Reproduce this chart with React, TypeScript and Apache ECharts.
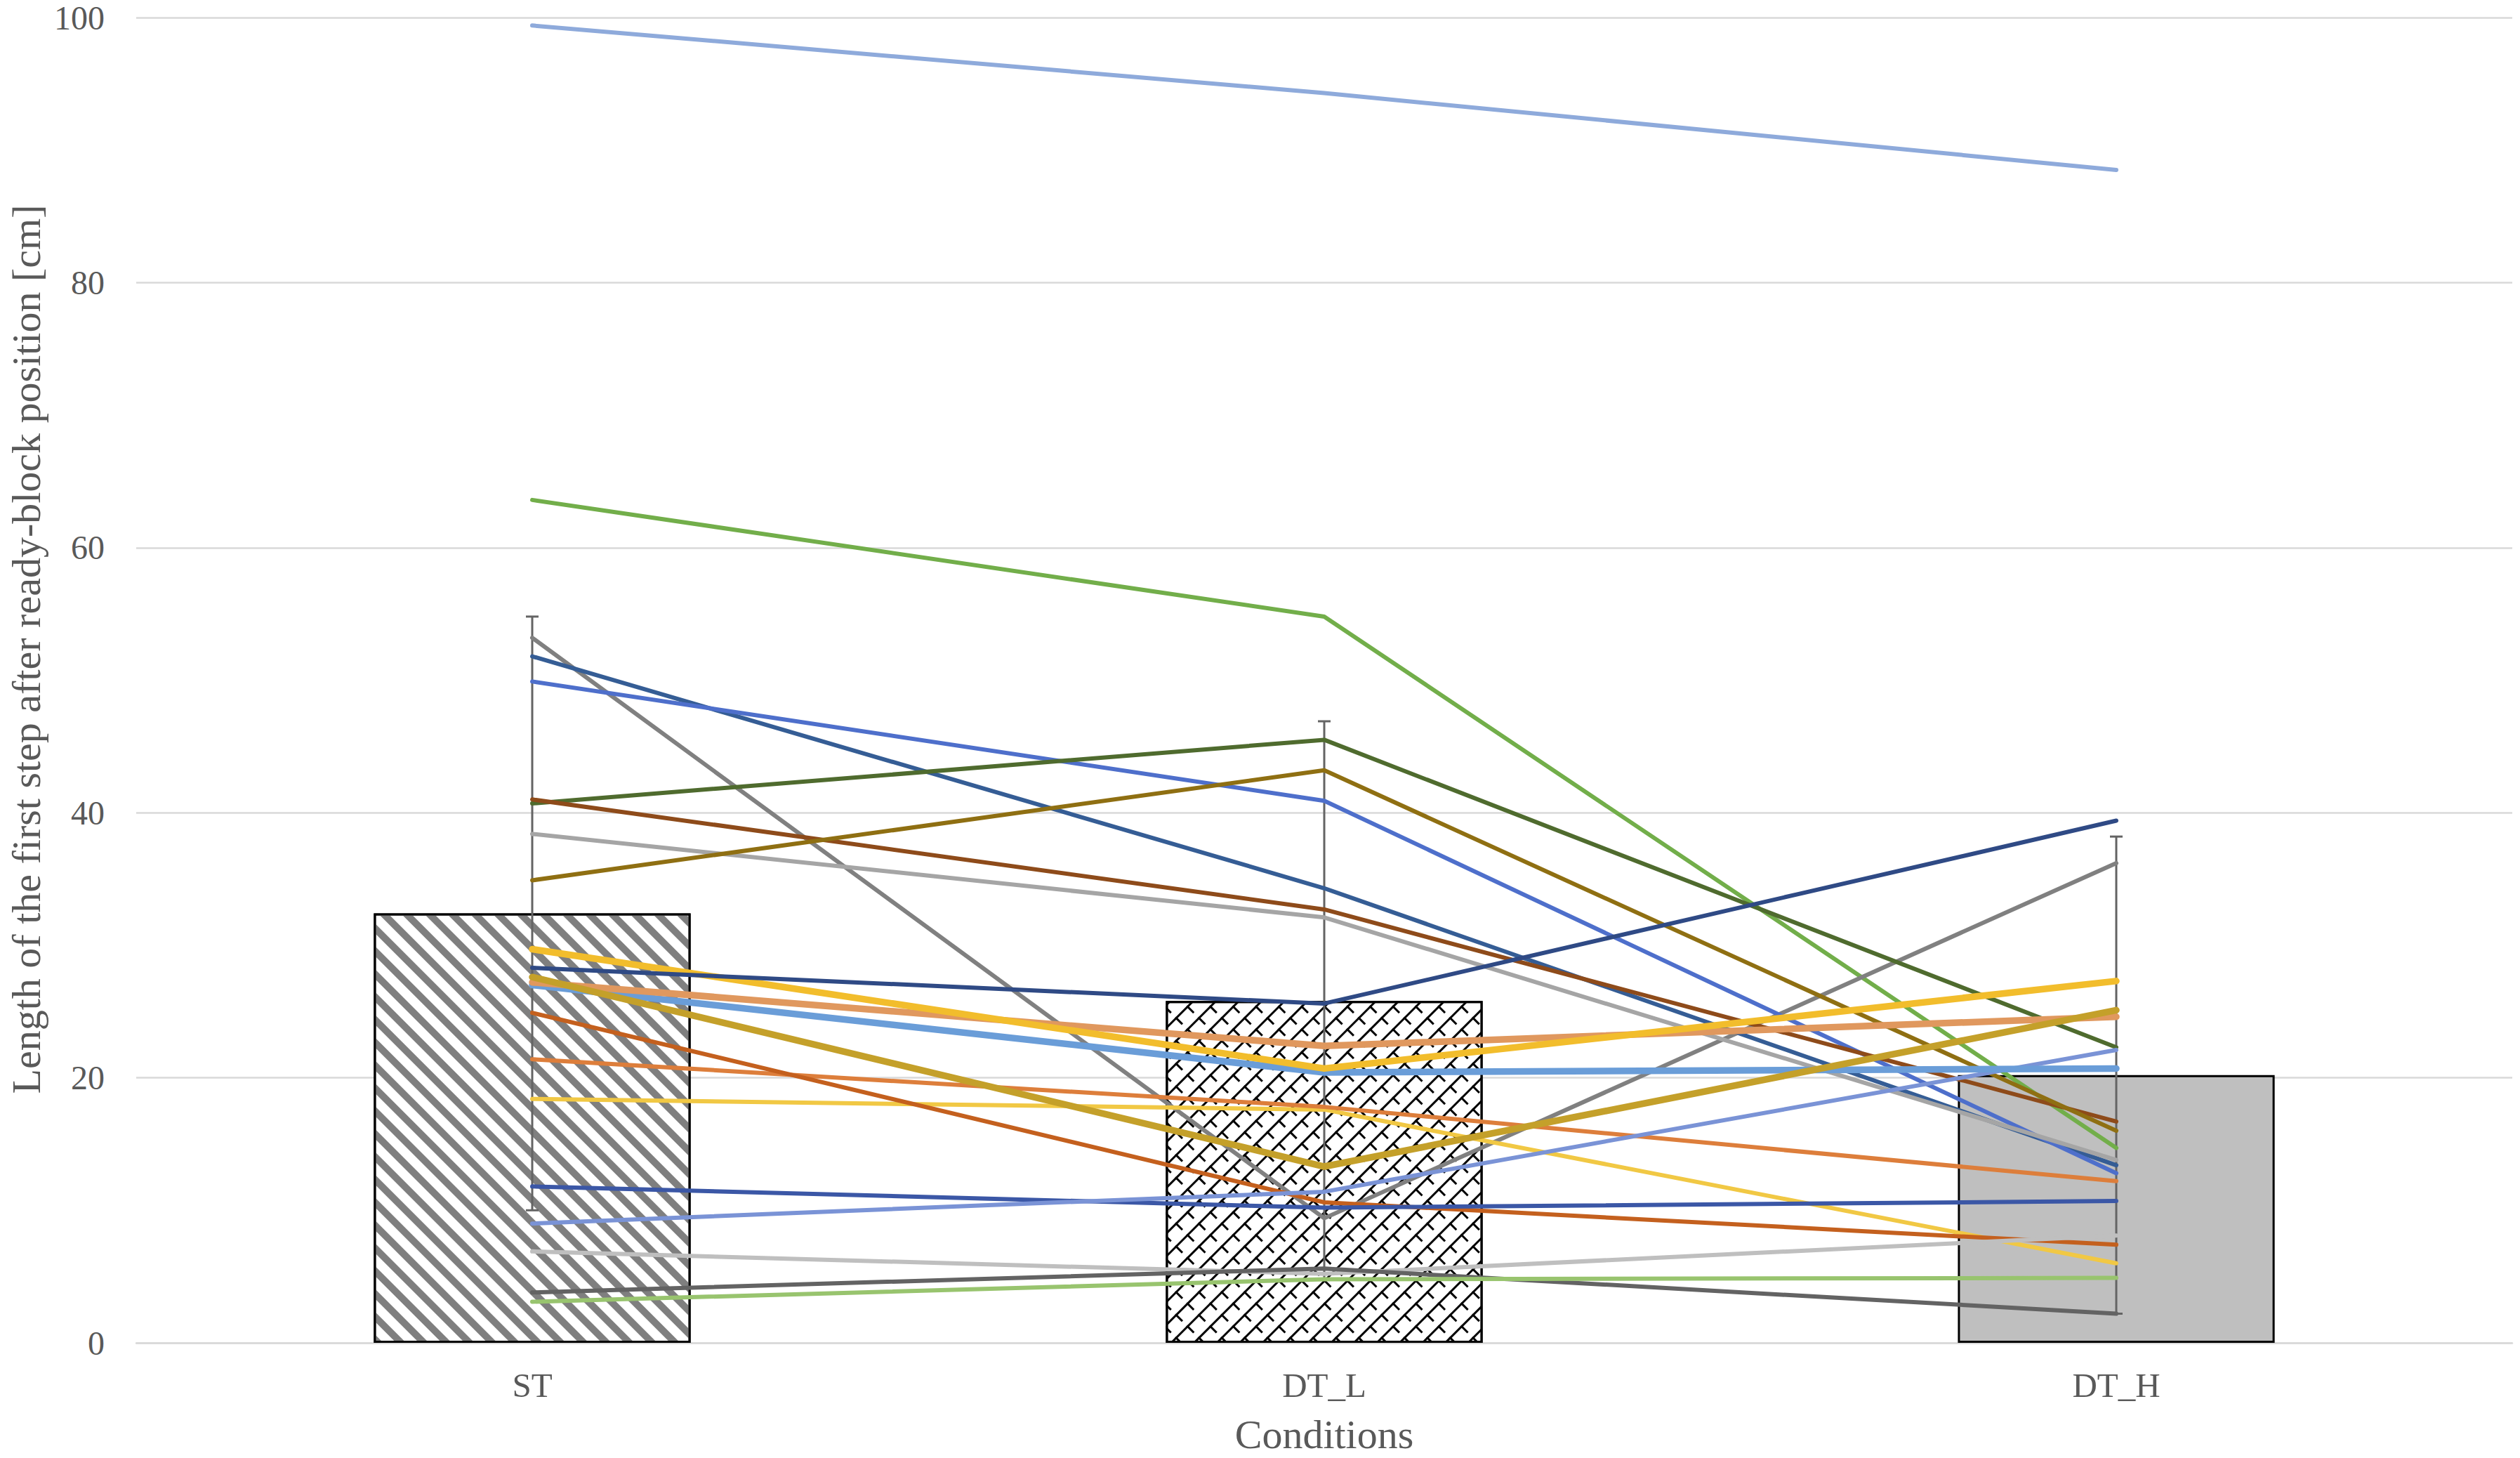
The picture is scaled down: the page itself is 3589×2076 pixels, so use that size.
import React, { useEffect, useRef } from 'react';
import * as echarts from 'echarts';

// ---------- data ----------
const categories = ['ST', 'DT_L', 'DT_H'];
const barMeans = [32.4, 25.8, 20.2];
const errLow = [10.0, 4.8, 2.2];
const errHigh = [54.8, 46.9, 38.2];
const yMin = 0;
const yMax = 100;
const yInterval = 20;

const p01 = [99.4, 94.3, 88.5];
const p02 = [63.6, 54.8, 14.7];
const p03 = [53.2, 9.4, 36.2];
const p04 = [51.8, 34.3, 13.4];
const p05 = [49.9, 40.9, 12.8];
const p06 = [40.7, 45.5, 22.3];
const p07 = [41.0, 32.7, 16.7];
const p08 = [38.4, 32.1, 13.8];
const p09 = [34.9, 43.2, 16.0];
const p10 = [28.3, 25.6, 39.4];
const p11 = [29.7, 20.7, 27.3];
const p12 = [27.2, 22.4, 24.6];
const p13 = [27.0, 20.4, 20.7];
const p14 = [27.6, 13.3, 25.1];
const p15 = [24.9, 10.6, 7.4];
const p16 = [21.4, 17.8, 12.2];
const p17 = [18.4, 17.6, 6.0];
const p18 = [11.8, 10.2, 10.7];
const p19 = [9.0, 11.4, 22.1];
const p20 = [6.9, 5.2, 8.1];
const p21 = [3.8, 5.6, 2.2];
const p22 = [3.1, 4.8, 4.9];

const subjects = [p01, p02, p03, p04, p05, p06, p07, p08, p09, p10, p11,
  p12, p13, p14, p15, p16, p17, p18, p19, p20, p21, p22];

// ---------- styles ----------
const subjectColors = [
  '#8EAADB', '#72AE4A', '#808080', '#355D95', '#4E6FCB', '#4F6B2E',
  '#8E4B1A', '#A5A5A5', '#8F6F12', '#2F4A85', '#F2BD2C', '#E0985E',
  '#6A9DD8', '#C4A02A', '#C4601E', '#DD7E3B', '#F1C844', '#3B57A6',
  '#7A93D6', '#BFBFBF', '#636363', '#98C46E',
];
const thickSet = new Set([10, 11, 12, 13]);
const drawOrder = [0, 1, 2, 3, 4, 5, 6, 7, 8, 16, 15, 14, 17, 18, 19, 20, 21, 12, 11, 10, 9, 13];

const FONT = '"Liberation Serif", "Times New Roman", serif';
const TEXT = '#595959';

export default function App() {
  const ref = useRef<HTMLDivElement>(null);

  useEffect(() => {
    document.body.style.margin = '0';
    if (!ref.current) return;
    const chart = echarts.init(ref.current, null, { renderer: 'svg' });

    const lineSeries = drawOrder.map((i) => ({
      type: 'line',
      name: 'P' + (i + 1),
      data: subjects[i],
      symbol: 'none',
      showSymbol: false,
      silent: true,
      z: 4,
      lineStyle: {
        color: subjectColors[i],
        width: thickSet.has(i) ? 9.5 : 6,
        cap: 'round',
        join: 'round',
      },
      emphasis: { disabled: true },
    }));

    const barData = barMeans.map((v, i) => {
      if (i === 0) {
        return {
          value: v,
          itemStyle: {
            color: '#ffffff',
            decal: {
              symbol: 'rect',
              symbolSize: 1,
              color: '#7F7F7F',
              dashArrayX: [1, 0],
              dashArrayY: [10, 13],
              rotation: Math.PI / 4,
            },
          },
        };
      }
      if (i === 1) {
        return {
          value: v,
          itemStyle: {
            color: '#ffffff',
            decal: {
              symbol: 'rect',
              symbolSize: 1,
              color: '#000000',
              dashArrayX: [1, 0],
              dashArrayY: [3, 20],
              rotation: -Math.PI / 4,
            },
          },
        };
      }
      return { value: v, itemStyle: { color: '#BFBFBF' } };
    });

    const overlayData = barMeans.map((v, i) =>
      i === 1
        ? {
            value: v,
            itemStyle: {
              color: 'rgba(0,0,0,0)',
              borderWidth: 0,
              decal: {
                symbol: 'rect',
                symbolSize: 1,
                color: '#000000',
                dashArrayX: [14, 9],
                dashArrayY: [3, 20],
                rotation: Math.PI / 4,
              },
            },
          }
        : '-'
    );

    const option: any = {
      animation: false,
      backgroundColor: '#ffffff',
      grid: { left: 190, right: 11, top: 25, bottom: 162, containLabel: false },
      xAxis: {
        type: 'category',
        data: categories,
        boundaryGap: true,
        name: 'Conditions',
        nameLocation: 'middle',
        nameGap: 101,
        nameTextStyle: { fontFamily: FONT, fontSize: 58, color: TEXT },
        axisTick: { show: false },
        axisLine: { show: true, lineStyle: { color: '#D9D9D9', width: 2.5 } },
        axisLabel: { fontFamily: FONT, fontSize: 49, color: TEXT, margin: 36 },
        splitLine: { show: false },
      },
      yAxis: {
        type: 'value',
        min: yMin,
        max: yMax,
        interval: yInterval,
        name: 'Length of the first step after ready-block position [cm]',
        nameLocation: 'middle',
        nameGap: 128,
        nameTextStyle: {
          fontFamily: FONT,
          fontSize: 58,
          color: TEXT,
          padding: [0, 0, 0, 88],
        },
        axisLine: { show: false },
        axisTick: { show: false },
        axisLabel: { fontFamily: FONT, fontSize: 48, color: TEXT, margin: 45 },
        splitLine: { show: true, lineStyle: { color: '#D9D9D9', width: 2.5 } },
      },
      series: [
        {
          type: 'bar',
          name: 'Mean',
          data: barData,
          barWidth: '40%',
          barGap: '-100%',
          silent: true,
          z: 2,
          itemStyle: { borderColor: '#000000', borderWidth: 3 },
          emphasis: { disabled: true },
        },
        {
          type: 'bar',
          name: 'MeanPattern',
          data: overlayData,
          barWidth: '40%',
          barGap: '-100%',
          silent: true,
          z: 2,
          emphasis: { disabled: true },
        },
        {
          type: 'custom',
          name: 'SD',
          silent: true,
          z: 3,
          data: categories.map((c, i) => [i, errLow[i], errHigh[i]]),
          encode: { x: 0, y: [1, 2] },
          renderItem: (params: any, api: any) => {
            const x = api.value(0);
            const lo = api.coord([x, api.value(1)]);
            const hi = api.coord([x, api.value(2)]);
            const hw = 9;
            const style = { stroke: '#646464', lineWidth: 3 };
            return {
              type: 'group',
              children: [
                { type: 'line', shape: { x1: hi[0], y1: hi[1], x2: lo[0], y2: lo[1] }, style },
                { type: 'line', shape: { x1: hi[0] - hw, y1: hi[1], x2: hi[0] + hw, y2: hi[1] }, style },
                { type: 'line', shape: { x1: lo[0] - hw, y1: lo[1], x2: lo[0] + hw, y2: lo[1] }, style },
              ],
            };
          },
        },
        ...lineSeries,
      ],
    };

    chart.setOption(option);
    return () => chart.dispose();
  }, []);

  return (
    <div
      ref={ref}
      style={{ position: 'absolute', left: 0, top: 0, width: 3589, height: 2076, background: '#fff' }}
    />
  );
}
